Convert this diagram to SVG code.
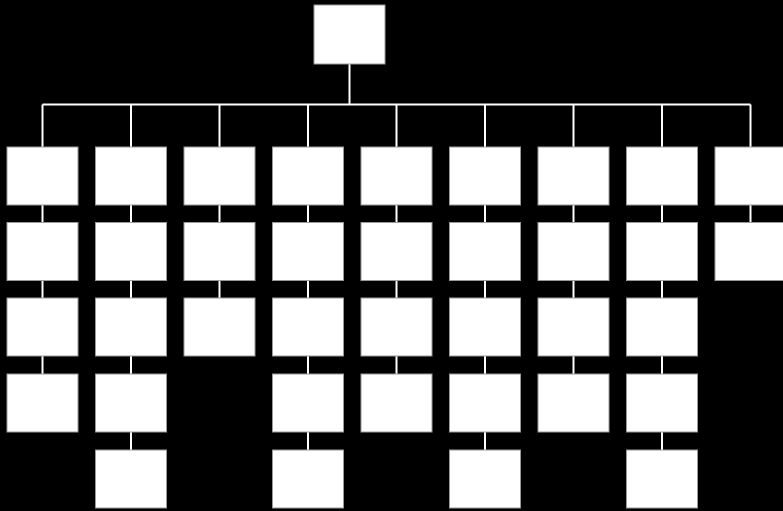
<svg xmlns="http://www.w3.org/2000/svg" width="783" height="511" viewBox="0 0 783 511">
<style>
.b{fill:#fff;stroke:#999;stroke-width:1}
.c{stroke:#fff;stroke-width:2;fill:none}
</style>
<rect x="0" y="0" width="783" height="511" fill="#000"/>
<g id="connectors">
<path class="c" d="M349.5 64V104.5M42.5 104.5H750.5"/>
<path class="c" d="M42.5 104.5V147M131 104.5V147M219.5 104.5V147M308 104.5V147M396.5 104.5V147M485 104.5V147M573.5 104.5V147M662 104.5V147M750.5 104.5V147"/>
<path class="c" d="M42.5 205V374"/>
<path class="c" d="M131 205V450"/>
<path class="c" d="M219.5 205V298"/>
<path class="c" d="M308 205V450"/>
<path class="c" d="M396.5 205V374"/>
<path class="c" d="M485 205V450"/>
<path class="c" d="M573.5 205V374"/>
<path class="c" d="M662 205V450"/>
<path class="c" d="M750.5 205V222"/>
</g>
<g id="root"><rect class="b" x="314" y="5" width="71" height="59"/></g>
<g id="c0">
<rect class="b" x="7" y="147" width="71" height="58"/>
<rect class="b" x="7" y="222.5" width="71" height="58"/>
<rect class="b" x="7" y="298" width="71" height="58"/>
<rect class="b" x="7" y="374" width="71" height="58"/>
</g>
<g id="c1">
<rect class="b" x="95.5" y="147" width="71" height="58"/>
<rect class="b" x="95.5" y="222.5" width="71" height="58"/>
<rect class="b" x="95.5" y="298" width="71" height="58"/>
<rect class="b" x="95.5" y="374" width="71" height="58"/>
<rect class="b" x="95.5" y="450" width="71" height="58"/>
</g>
<g id="c2">
<rect class="b" x="184" y="147" width="71" height="58"/>
<rect class="b" x="184" y="222.5" width="71" height="58"/>
<rect class="b" x="184" y="298" width="71" height="58"/>
</g>
<g id="c3">
<rect class="b" x="272.5" y="147" width="71" height="58"/>
<rect class="b" x="272.5" y="222.5" width="71" height="58"/>
<rect class="b" x="272.5" y="298" width="71" height="58"/>
<rect class="b" x="272.5" y="374" width="71" height="58"/>
<rect class="b" x="272.5" y="450" width="71" height="58"/>
</g>
<g id="c4">
<rect class="b" x="361" y="147" width="71" height="58"/>
<rect class="b" x="361" y="222.5" width="71" height="58"/>
<rect class="b" x="361" y="298" width="71" height="58"/>
<rect class="b" x="361" y="374" width="71" height="58"/>
</g>
<g id="c5">
<rect class="b" x="449.5" y="147" width="71" height="58"/>
<rect class="b" x="449.5" y="222.5" width="71" height="58"/>
<rect class="b" x="449.5" y="298" width="71" height="58"/>
<rect class="b" x="449.5" y="374" width="71" height="58"/>
<rect class="b" x="449.5" y="450" width="71" height="58"/>
</g>
<g id="c6">
<rect class="b" x="538" y="147" width="71" height="58"/>
<rect class="b" x="538" y="222.5" width="71" height="58"/>
<rect class="b" x="538" y="298" width="71" height="58"/>
<rect class="b" x="538" y="374" width="71" height="58"/>
</g>
<g id="c7">
<rect class="b" x="626.5" y="147" width="71" height="58"/>
<rect class="b" x="626.5" y="222.5" width="71" height="58"/>
<rect class="b" x="626.5" y="298" width="71" height="58"/>
<rect class="b" x="626.5" y="374" width="71" height="58"/>
<rect class="b" x="626.5" y="450" width="71" height="58"/>
</g>
<g id="c8">
<rect class="b" x="715" y="147" width="71" height="58"/>
<rect class="b" x="715" y="222.5" width="71" height="58"/>
</g>
</svg>
